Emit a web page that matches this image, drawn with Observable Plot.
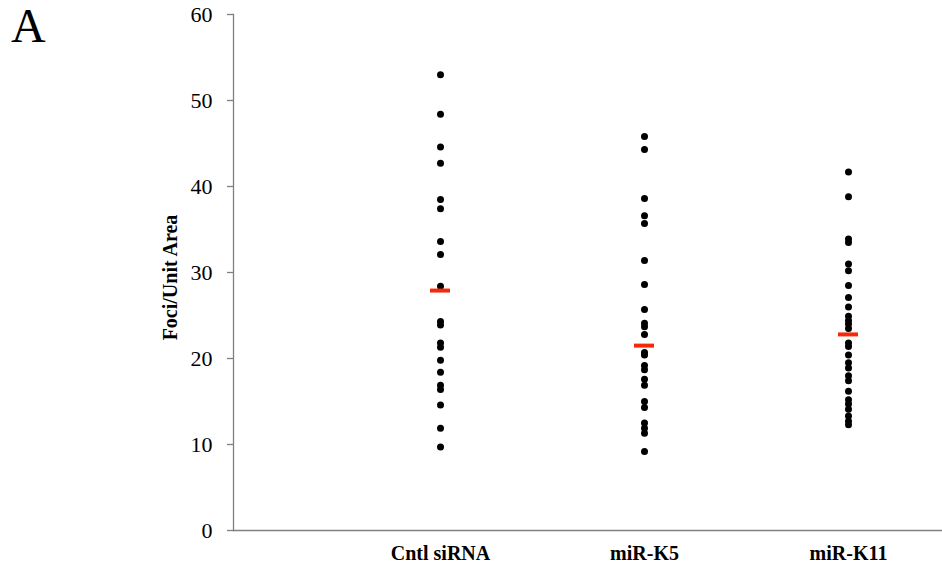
<!DOCTYPE html>
<html>
<head>
<meta charset="utf-8">
<script src="https://cdn.jsdelivr.net/npm/d3@7"></script>
<script src="https://cdn.jsdelivr.net/npm/@observablehq/plot@0.6"></script>
<style>
  html, body { margin: 0; padding: 0; background: #fff; }
  #wrap { position: relative; width: 942px; height: 567px; }
  #panel { position: absolute; left: 11px; top: 2px; font-family: "Liberation Serif", serif; font-size: 48px; line-height: 1; color: #000; }
</style>
</head>
<body>
<div id="wrap">
  <div id="panel">A</div>
</div>
<script>
const categories = ["Cntl siRNA", "miR-K5", "miR-K11"];
const cntlValues = [53.0, 48.4, 44.6, 42.7, 38.5, 37.4, 33.6, 32.1, 28.4, 24.3, 23.9, 21.8, 21.3, 19.8, 18.4, 16.9, 16.4, 14.6, 11.9, 9.7];
const k5Values = [45.8, 44.3, 38.6, 36.6, 35.7, 31.4, 28.6, 25.7, 24.1, 23.7, 22.8, 20.7, 20.4, 19.2, 18.7, 17.6, 16.9, 15.0, 14.3, 12.5, 11.9, 11.3, 9.2];
const k11Values = [41.7, 38.8, 33.9, 33.5, 31.0, 30.2, 28.5, 27.1, 26.0, 24.9, 24.4, 24.0, 23.5, 21.8, 21.4, 20.4, 19.5, 18.9, 18.0, 17.4, 16.2, 15.2, 14.7, 14.1, 13.3, 12.7, 12.3];
const meanValues = [27.9, 21.5, 22.8];
const yTicks = [0, 10, 20, 30, 40, 50, 60];
const yLabel = "Foci/Unit Area";

const seriesValues = [cntlValues, k5Values, k11Values];
const points = seriesValues.flatMap((vals, i) => vals.map(v => ({group: categories[i], value: v})));
const means = categories.map((c, i) => ({group: c, value: meanValues[i]}));

const serif = "Liberation Serif";

const chart = Plot.plot({
  width: 942,
  height: 567,
  marginLeft: 233,
  marginRight: 0,
  marginTop: 14,
  marginBottom: 37,
  style: {background: "transparent"},
  x: {type: "band", domain: categories, range: [336.75, 950.25], paddingInner: 0.9022, paddingOuter: 0.4511, align: 0.5, axis: null},
  y: {domain: [0, 60], axis: null},
  marks: [
    Plot.frame({anchor: "left", stroke: "#808080", strokeWidth: 1.3}),
    Plot.ruleY([0], {stroke: "#808080", strokeWidth: 1.3}),
    Plot.tickY(yTicks, {y: d => d, frameAnchor: "left", stroke: "#808080", strokeWidth: 1.3, insetLeft: -6, insetRight: 942 - 233}),
    Plot.text(yTicks, {y: d => d, frameAnchor: "left", textAnchor: "end", dx: -21, fontSize: 22, fill: "#000", fontFamily: serif}),
    Plot.text(categories, {x: d => d, frameAnchor: "bottom", lineAnchor: "middle", dy: 23, fontSize: 20, fontWeight: "bold", fill: "#000", fontFamily: serif}),
    Plot.text([yLabel], {frameAnchor: "left", textAnchor: "middle", rotate: -90, dx: -63, dy: 5, fontWeight: "bold", fontSize: 20, fill: "#000", fontFamily: serif}),
    Plot.dot(points, {x: "group", y: "value", r: 3.5, fill: "#000", stroke: "none"}),
    Plot.tickY(means, {x: "group", y: "value", stroke: "#f5290a", strokeWidth: 4})
  ]
});
chart.style.position = "absolute";
chart.style.left = "0";
chart.style.top = "0";
document.getElementById("wrap").prepend(chart);
</script>
</body>
</html>
